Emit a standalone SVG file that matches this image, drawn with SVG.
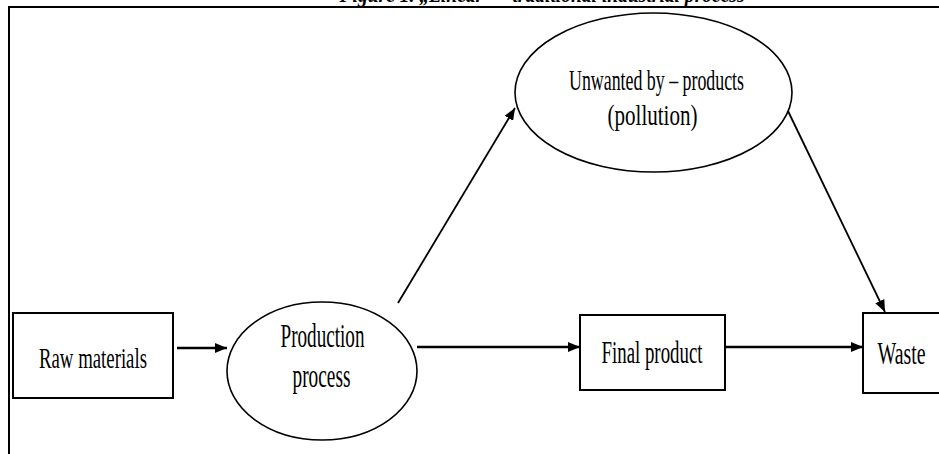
<svg xmlns="http://www.w3.org/2000/svg" width="939" height="454" viewBox="0 0 939 454">
<style>
.box{fill:#fff;stroke:#000;stroke-width:2}
.ell{fill:#fff;stroke:#000;stroke-width:1.6}
.lbl{font-family:"Liberation Serif","Times New Roman",serif;fill:#000;text-anchor:middle}
.edge{stroke:#000;fill:none}
.title{font-family:"Liberation Serif","Times New Roman",serif;font-weight:bold;font-style:italic;fill:#000;text-anchor:middle}
</style>
<defs>
<marker id="ah" viewBox="0 0 12 10" refX="12" refY="5" markerWidth="12" markerHeight="10" markerUnits="userSpaceOnUse" orient="auto">
<path d="M0,0 L12,5 L0,10 z" fill="#000"/>
</marker>
</defs>
<rect width="939" height="454" fill="#fff"/>
<text class="title" x="542" y="1.5" font-size="20" textLength="405" lengthAdjust="spacingAndGlyphs">Figure 1. „Linear” – traditional industrial process</text>
<path d="M9,454 V7 H939" fill="none" stroke="#000" stroke-width="2"/>
<g id="connectors">
<line class="edge" x1="177" y1="348" x2="227" y2="348" stroke-width="2.4" marker-end="url(#ah)"/>
<line class="edge" x1="417" y1="347" x2="580" y2="347" stroke-width="2.4" marker-end="url(#ah)"/>
<line class="edge" x1="725" y1="347" x2="863" y2="347" stroke-width="2.4" marker-end="url(#ah)"/>
<line class="edge" x1="398" y1="303" x2="515" y2="108" stroke-width="1.8" marker-end="url(#ah)"/>
<line class="edge" x1="788" y1="111" x2="885" y2="312" stroke-width="1.8" marker-end="url(#ah)"/>
</g>
<g id="raw">
<rect class="box" x="13" y="313" width="160" height="85"/>
<text class="lbl" x="93" y="368" font-size="29" textLength="108" lengthAdjust="spacingAndGlyphs">Raw materials</text>
</g>
<g id="production">
<ellipse class="ell" cx="322" cy="371" rx="95" ry="69"/>
<text class="lbl" x="322.5" y="347" font-size="34" textLength="84" lengthAdjust="spacingAndGlyphs">Production</text>
<text class="lbl" x="321.5" y="387" font-size="34" textLength="58" lengthAdjust="spacingAndGlyphs">process</text>
</g>
<g id="unwanted">
<ellipse class="ell" cx="653.5" cy="92.5" rx="138.5" ry="79.5"/>
<text class="lbl" x="656.5" y="90" font-size="30" textLength="175" lengthAdjust="spacingAndGlyphs">Unwanted by – products</text>
<text class="lbl" x="652.5" y="125" font-size="30" textLength="90" lengthAdjust="spacingAndGlyphs">(pollution)</text>
</g>
<g id="final">
<rect class="box" x="580" y="315" width="145" height="75"/>
<text class="lbl" x="652" y="363" font-size="32" textLength="101" lengthAdjust="spacingAndGlyphs">Final product</text>
</g>
<g id="waste">
<rect class="box" x="863" y="313" width="90" height="80"/>
<text class="lbl" x="901.5" y="364" font-size="32" textLength="48" lengthAdjust="spacingAndGlyphs">Waste</text>
</g>
</svg>
